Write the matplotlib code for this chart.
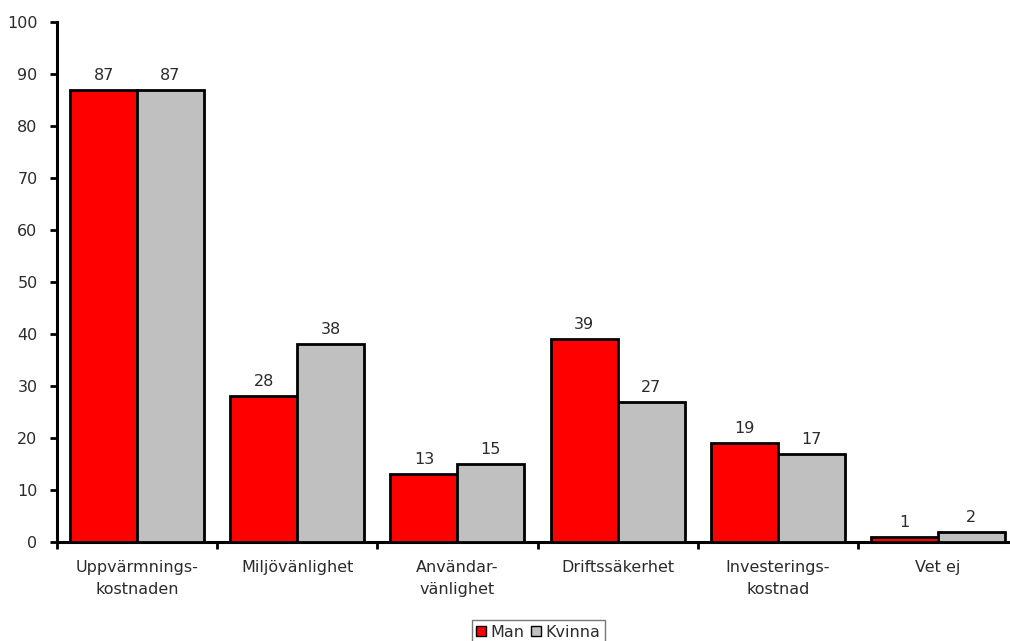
import matplotlib
matplotlib.use("Agg")
import matplotlib.pyplot as plt
import numpy as np

categories = ["Uppvärmnings-\nkostnaden", "Miljövänlighet", "Användar-\nvänlighet",
              "Driftssäkerhet", "Investerings-\nkostnad", "Vet ej"]
man = [87, 28, 13, 39, 19, 1]
kvinna = [87, 38, 15, 27, 17, 2]
series_names = ["Man", "Kvinna"]
yticks = list(range(0, 101, 10))

plt.rcParams["font.family"] = ["DejaVu Sans"]
text_color = "#2b2b2b"
fs = 11.5

fig = plt.figure(figsize=(10.10, 6.41), dpi=100)
ax = fig.add_axes([57 / 1010, 99 / 641, 961 / 1010, 520 / 641])

x = np.arange(len(categories))
w = 0.418
b1 = ax.bar(x - w / 2, man, width=w, color="#ff0000", edgecolor="black", linewidth=2,
            label=series_names[0], zorder=3)
b2 = ax.bar(x + w / 2, kvinna, width=w, color="#c0c0c0", edgecolor="black", linewidth=2,
            label=series_names[1], zorder=3)

for bars, vals in ((b1, man), (b2, kvinna)):
    for r, v in zip(bars, vals):
        ax.annotate(f"{v}", (r.get_x() + r.get_width() / 2, v), xytext=(0, 5),
                    textcoords="offset points", ha="center", va="bottom",
                    fontsize=fs, color=text_color)

ax.set_xlim(-0.5, len(categories) - 0.5)
ax.set_ylim(0, 100)
ax.set_yticks(yticks)
ax.set_yticklabels([str(t) for t in yticks], fontsize=fs, color=text_color)

# category boundaries carry the ticks; labels sit at the centres
ax.set_xticks(np.arange(len(categories) + 1) - 0.5)
ax.set_xticklabels([])
ax.set_xticks(x, minor=True)
ax.set_xticklabels(categories, minor=True, fontsize=fs, color=text_color, linespacing=1.55)
ax.tick_params(axis="x", which="minor", length=0, pad=13)
ax.tick_params(axis="x", which="major", length=5, width=2, direction="out")
ax.tick_params(axis="y", length=5, width=2, direction="out", pad=9)

for s in ("top", "right"):
    ax.spines[s].set_visible(False)
for s in ("left", "bottom"):
    ax.spines[s].set_linewidth(2.2)

leg = fig.legend(handles=[b1, b2], labels=series_names, loc="upper center",
                 bbox_to_anchor=(538.5 / 1010, 1 - 620 / 641), ncol=2, frameon=True,
                 fancybox=False, edgecolor="#555555", fontsize=fs,
                 handlelength=0.6, handleheight=0.6, handletextpad=0.3,
                 columnspacing=0.4, borderpad=0.3, borderaxespad=0)
leg.get_frame().set_linewidth(1.0)
for t in leg.get_texts():
    t.set_color(text_color)
for h in leg.legend_handles:
    h.set_linewidth(1)

fig.savefig("out.png", dpi=100)
